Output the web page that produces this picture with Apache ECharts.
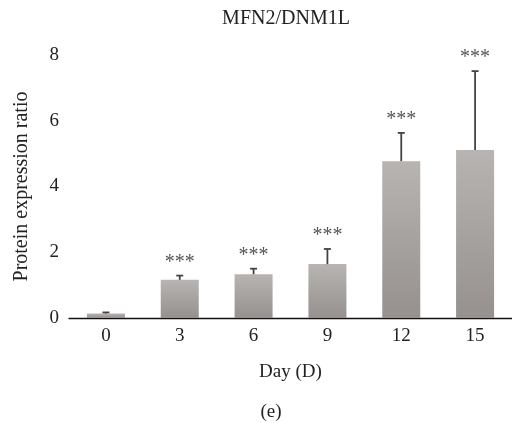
<!DOCTYPE html>
<html>
<head>
<meta charset="utf-8">
<script src="https://cdn.jsdelivr.net/npm/echarts@6/dist/echarts.min.js"></script>
<style>
  html, body { margin: 0; padding: 0; background: #fff; }
  #main { width: 512px; height: 423px; }
</style>
</head>
<body>
<div id="main"></div>
<script>
// values
var days = ['0', '3', '6', '9', '12', '15'];
var means = [0.14, 1.16, 1.33, 1.64, 4.77, 5.11];
var errUpper = [0.17, 1.29, 1.50, 2.10, 5.63, 7.51];
var marks = ['', '***', '***', '***', '***', '***'];
var yTicks = [0, 2, 4, 6, 8];

var FONT = '"Liberation Serif", "DejaVu Serif", serif';
var FS = 19;

var chart = echarts.init(document.getElementById('main'));

var errData = days.map(function (d, i) {
    return [i, means[i], errUpper[i], marks[i]];
});

chart.setOption({
    animation: false,
    title: [
        {
            text: 'MFN2/DNM1L',
            left: 281, top: 4, textAlign: 'center',
            textStyle: {fontFamily: FONT, fontSize: 20, fontWeight: 'normal', color: '#222'}
        },
        {
            text: '(e)',
            left: 266, top: 398, textAlign: 'center',
            textStyle: {fontFamily: FONT, fontSize: FS, fontWeight: 'normal', color: '#222'}
        }
    ],
    grid: {left: 69, right: -10, top: 55, height: 263},
    xAxis: {
        type: 'category',
        data: days,
        axisTick: {show: false},
        axisLine: {lineStyle: {color: '#111', width: 1.3}},
        axisLabel: {fontFamily: FONT, fontSize: FS, color: '#222', margin: 9},
        name: 'Day (D)',
        nameLocation: 'middle',
        nameGap: 45,
        nameTextStyle: {fontFamily: FONT, fontSize: FS, color: '#222'}
    },
    yAxis: {
        type: 'value',
        min: yTicks[0],
        max: yTicks[yTicks.length - 1],
        interval: 2,
        splitLine: {show: false},
        axisLine: {show: false},
        axisTick: {show: false},
        axisLabel: {fontFamily: FONT, fontSize: FS, color: '#222', margin: 10},
        name: 'Protein expression ratio',
        nameLocation: 'middle',
        nameGap: 37,
        nameTextStyle: {fontFamily: FONT, fontSize: 20, color: '#222'}
    },
    series: [
        {
            type: 'bar',
            data: means,
            barWidth: 38,
            itemStyle: {
                color: new echarts.graphic.LinearGradient(0, 0, 0, 1, [
                    {offset: 0, color: '#b7b4b2'},
                    {offset: 1, color: '#96918e'}
                ])
            },
            z: 2
        },
        {
            type: 'custom',
            data: errData,
            z: 3,
            renderItem: function (params, api) {
                var i = api.value(0);
                var base = api.coord([i, api.value(1)]);
                var top = api.coord([i, api.value(2)]);
                var cap = 3.5;
                var children = [
                    {
                        type: 'line',
                        shape: {x1: base[0], y1: base[1], x2: top[0], y2: top[1]},
                        style: {stroke: '#444', lineWidth: 1.8}
                    },
                    {
                        type: 'line',
                        shape: {x1: top[0] - cap, y1: top[1], x2: top[0] + cap, y2: top[1]},
                        style: {stroke: '#444', lineWidth: 1.8}
                    }
                ];
                var txt = marks[i];
                if (txt) {
                    children.push({
                        type: 'text',
                        style: {
                            text: txt,
                            x: top[0], y: top[1] - 3,
                            align: 'center', verticalAlign: 'bottom',
                            font: '20px ' + FONT,
                            fill: '#555'
                        }
                    });
                }
                return {type: 'group', children: children};
            }
        }
    ]
});
</script>
</body>
</html>
